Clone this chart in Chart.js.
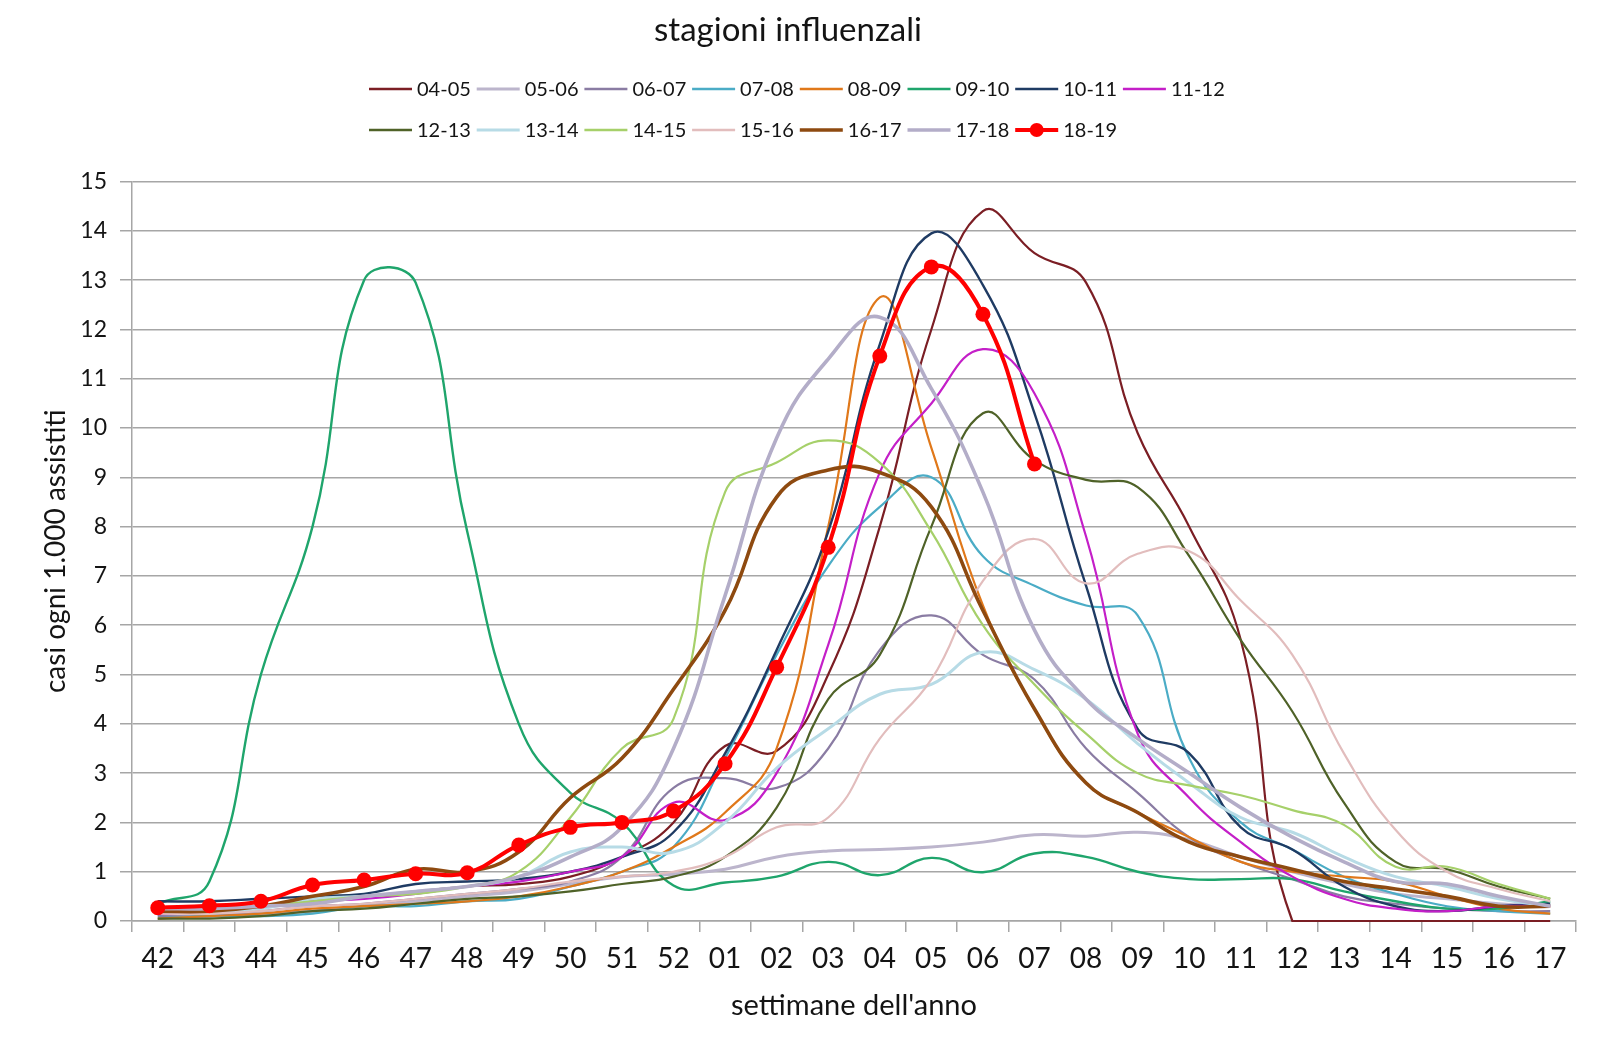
<!DOCTYPE html>
<html lang="it">
<head>
<meta charset="utf-8">
<title>stagioni influenzali</title>
<script src="https://cdn.jsdelivr.net/npm/chart.js@4.4.1/dist/chart.umd.min.js"></script>
<style>
  html, body { margin: 0; padding: 0; background: #fff; }
  #wrap { width: 1608px; height: 1049px; }
</style>
</head>
<body>
<div id="wrap"><canvas id="flu" width="1608" height="1049"></canvas></div>
<script>
// stagioni influenzali – casi ogni 1.000 assistiti per settimana

const weeks = ['42','43','44','45','46','47','48','49','50','51','52',
  '01','02','03','04','05','06','07','08','09','10','11','12','13','14','15','16','17'];

const yTicks = [0,1,2,3,4,5,6,7,8,9,10,11,12,13,14,15];

const seasons = ['04-05','05-06','06-07','07-08','08-09','09-10','10-11','11-12',
  '12-13','13-14','14-15','15-16','16-17','17-18','18-19'];

// values, one per week
const s0405 = [0.2,0.25,0.3,0.45,0.5,0.6,0.7,0.75,0.9,1.3,2.0,3.55,3.45,5.0,8.0,12.0,14.4,13.55,12.95,9.9,8.0,5.7,0,0,0,0,0,0];
const s0506 = [0.1,0.1,0.15,0.2,0.3,0.4,0.5,0.6,0.75,0.9,0.95,1.05,1.3,1.42,1.45,1.5,1.6,1.75,1.72,1.8,1.65,1.3,1.0,0.75,0.55,0.45,0.35,0.3];
const s0607 = [0.1,0.1,0.2,0.3,0.35,0.45,0.55,0.65,0.8,1.3,2.7,2.9,2.7,3.5,5.5,6.2,5.4,4.9,3.5,2.6,1.7,1.2,0.85,0.5,0.35,0.25,0.2,0.2];
const s0708 = [0.05,0.1,0.1,0.15,0.3,0.3,0.4,0.45,0.7,1.0,1.5,3.3,5.4,7.2,8.4,9.0,7.4,6.8,6.4,6.2,3.3,2.0,1.45,0.9,0.55,0.3,0.2,0.15];
const s0809 = [0.05,0.1,0.15,0.25,0.3,0.35,0.4,0.5,0.7,1.0,1.5,2.2,3.5,8.0,12.65,9.6,6.4,4.3,2.8,2.2,1.7,1.2,1.0,0.9,0.8,0.5,0.25,0.15];
const s0910 = [0.35,0.8,5.0,8.0,13.0,12.95,7.9,4.0,2.6,2.0,0.72,0.78,0.9,1.2,0.93,1.28,0.99,1.37,1.3,1.0,0.85,0.85,0.85,0.6,0.4,0.25,0.25,0.4];
const s1011 = [0.4,0.4,0.45,0.5,0.55,0.75,0.8,0.85,1.0,1.3,1.8,3.4,5.5,7.9,11.7,13.95,12.9,10.3,6.8,3.9,3.4,1.9,1.45,0.7,0.3,0.2,0.3,0.35];
const s1112 = [0.15,0.2,0.3,0.4,0.45,0.55,0.7,0.8,1.0,1.3,2.4,2.05,3.0,5.6,9.1,10.5,11.6,10.7,7.8,3.8,2.5,1.6,0.9,0.45,0.25,0.2,0.3,0.3];
const s1213 = [0.05,0.05,0.1,0.2,0.25,0.35,0.45,0.5,0.6,0.75,0.9,1.3,2.3,4.5,5.4,8.0,10.3,9.35,8.95,8.8,7.4,5.7,4.25,2.4,1.2,1.05,0.7,0.45];
const s1314 = [0.2,0.2,0.25,0.45,0.5,0.6,0.7,0.9,1.4,1.5,1.4,2.0,3.1,3.9,4.6,4.8,5.45,5.1,4.5,3.6,2.8,2.1,1.8,1.3,0.9,0.7,0.45,0.3];
const s1415 = [0.2,0.2,0.3,0.4,0.5,0.55,0.7,1.0,2.1,3.5,4.1,8.7,9.3,9.75,9.3,7.9,6.0,4.8,3.8,3.0,2.75,2.55,2.25,1.95,1.1,1.1,0.75,0.45];
const s1516 = [0.15,0.15,0.2,0.3,0.35,0.45,0.55,0.65,0.8,0.9,1.0,1.3,1.9,2.1,3.7,4.9,6.9,7.75,6.85,7.45,7.5,6.5,5.4,3.4,1.85,1.0,0.65,0.4];
const s1617 = [0.2,0.2,0.3,0.5,0.7,1.05,1.0,1.4,2.5,3.3,4.7,6.3,8.6,9.15,9.1,8.4,6.3,4.3,2.8,2.2,1.6,1.3,1.05,0.8,0.65,0.5,0.3,0.3];
const s1718 = [0.25,0.25,0.3,0.35,0.5,0.6,0.7,0.9,1.3,1.9,3.5,6.6,9.8,11.4,12.25,10.8,8.7,5.9,4.5,3.7,3.0,2.3,1.7,1.2,0.8,0.75,0.5,0.3];
const s1819 = [0.27,0.31,0.4,0.73,0.83,0.96,0.98,1.54,1.9,2.0,2.23,3.19,5.15,7.58,11.46,13.27,12.31,9.27,null,null,null,null,null,null,null,null,null,null];

const seriesValues = [s0405, s0506, s0607, s0708, s0809, s0910, s1011, s1112,
  s1213, s1314, s1415, s1516, s1617, s1718, s1819];

const colors = ['#7b1e24','#bcb5cc','#8a7ca3','#4bacc6','#e0781a','#1fa56c','#1f3b63','#c41fc8',
  '#4f6228','#b7dbe6','#a6d06a','#e2bdbd','#8e4a10','#b3adc8','#ff0000'];
const widths = [2.2,3,2.2,2.2,2.2,2.4,2.4,2.2,2.2,3,2.2,2.2,3.6,3.6,4];

const FONT = 'Lato, "Open Sans", sans-serif';
const TEXT = '#141414';

// legend laid out in two left-aligned rows like the original
const rowLegend = {
  id: 'rowLegend',
  afterDraw(chart) {
    const ctx = chart.ctx;
    ctx.save();
    ctx.font = '20px ' + FONT;
    ctx.textBaseline = 'middle';
    chart.data.datasets.forEach((ds, i) => {
      const col = i < 8 ? i : i - 8;
      const x = 369 + col * 107.7;
      const y = i < 8 ? 89 : 130;
      ctx.strokeStyle = ds.borderColor;
      ctx.lineWidth = Math.max(ds.borderWidth, 2.5);
      ctx.beginPath();
      ctx.moveTo(x, y);
      ctx.lineTo(x + 43, y);
      ctx.stroke();
      if (ds.pointRadius > 0) {
        ctx.fillStyle = ds.pointBackgroundColor;
        ctx.beginPath();
        ctx.arc(x + 21.5, y, 7, 0, Math.PI * 2);
        ctx.fill();
      }
      ctx.fillStyle = TEXT;
      ctx.fillText(ds.label, x + 48, y + 1);
    });
    ctx.restore();
  }
};

const datasets = seasons.map((name, i) => {
  const last = i === seasons.length - 1;
  return {
    label: name,
    data: seriesValues[i],
    borderColor: colors[i],
    backgroundColor: colors[i],
    borderWidth: widths[i],
    pointRadius: last ? 7.5 : 0,
    pointBackgroundColor: colors[i],
    pointBorderWidth: 0,
    tension: 0.45,
    fill: false,
    clip: 8,
    order: seasons.length - i
  };
});

window.addEventListener('DOMContentLoaded', () => {
  const ctx = document.getElementById('flu').getContext('2d');
  new Chart(ctx, {
    type: 'line',
    data: { labels: weeks, datasets },
    plugins: [rowLegend],
    options: {
      responsive: false,
      animation: false,
      devicePixelRatio: 1,
      layout: { padding: { left: 0, right: 32, top: 0, bottom: 0 } },
      plugins: {
        legend: { display: false },
        tooltip: { enabled: false },
        title: {
          display: true,
          text: 'stagioni influenzali',
          color: TEXT,
          font: { family: FONT, size: 33, weight: 'normal' },
          padding: { top: 11, bottom: 131 }
        }
      },
      scales: {
        x: {
          offset: true,
          grid: { offset: true, drawOnChartArea: false, drawTicks: true, tickLength: 11, color: '#a6a6a6', lineWidth: 1.5 },
          border: { color: '#a6a6a6', width: 1.5 },
          ticks: { autoSkip: false, maxRotation: 0, padding: 10, color: TEXT, font: { family: FONT, size: 28 } },
          title: {
            display: true,
            text: "settimane dell'anno",
            color: TEXT,
            font: { family: FONT, size: 29 },
            padding: { top: 0, bottom: 26 }
          },
          afterFit(scale) { scale.height = 128; }
        },
        y: {
          min: yTicks[0],
          max: yTicks[yTicks.length - 1],
          afterBuildTicks(scale) { scale.ticks = yTicks.map(v => ({ value: v })); },
          grid: { color: '#a6a6a6', lineWidth: 1.5, tickLength: 12 },
          border: { color: '#a6a6a6', width: 1.5 },
          ticks: { padding: 13, color: TEXT, font: { family: FONT, size: 23 } },
          title: {
            display: true,
            text: 'casi ogni 1.000 assistiti',
            color: TEXT,
            font: { family: FONT, size: 28 },
            padding: { top: 39, bottom: 0 }
          },
          afterFit(scale) { scale.width = 132; }
        }
      }
    }
  });
});
</script>
</body>
</html>
